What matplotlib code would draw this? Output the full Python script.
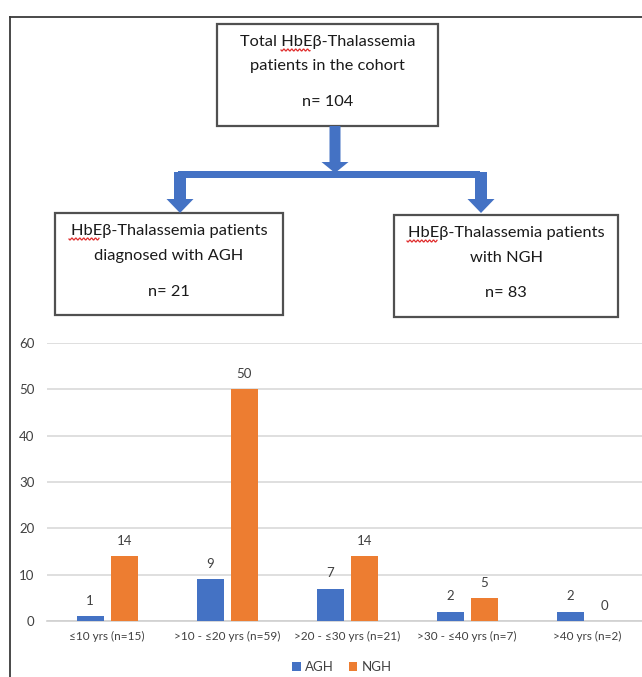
import matplotlib.pyplot as plt
import numpy as np
from matplotlib.patches import Rectangle, FancyArrow

# data
categories = ["≤10 yrs (n=15)", ">10 - ≤20 yrs (n=59)", ">20 - ≤30 yrs (n=21)",
              ">30 - ≤40 yrs (n=7)", ">40 yrs (n=2)"]
agh = [1, 9, 7, 2, 2]
ngh = [14, 50, 14, 5, 0]
yticks = [0, 10, 20, 30, 40, 50, 60]

top_box = ["Total HbEβ-Thalassemia", "patients in the cohort", "", "n= 104"]
left_box = ["HbEβ-Thalassemia patients", "diagnosed with AGH", "", "n= 21"]
right_box = ["HbEβ-Thalassemia patients", "with NGH", "", "n= 83"]

blue = "#4472C4"
orange = "#ED7D31"
grey_txt = "#404040"
W, H = 642, 677

plt.rcParams['font.family'] = ['Lato', 'DejaVu Sans']

fig = plt.figure(figsize=(W / 100, H / 100), dpi=100)

# bar chart, placed in pixel terms
x0, x1 = 47, 647
y_zero, y_top = 621, 343
ax = fig.add_axes([x0 / W, (H - y_zero) / H, (x1 - x0) / W, (y_zero - y_top) / H])
x = np.arange(len(categories))
bw = 0.225
b1 = ax.bar(x - 0.14, agh, bw, color=blue, label="AGH", zorder=3)
b2 = ax.bar(x + 0.145, ngh, bw, color=orange, label="NGH", zorder=3)
for bars, vals in ((b1, agh), (b2, ngh)):
    for b, v in zip(bars, vals):
        ax.text(b.get_x() + b.get_width() / 2, v + 2.0, str(v), ha="center", va="bottom",
                fontsize=9.5, color=grey_txt)
ax.set_xlim(-0.5, len(categories) - 0.5)
ax.set_ylim(0, 60)
ax.set_yticks(yticks)
ax.set_xticks(x)
ax.set_xticklabels(categories, fontsize=8.5, color=grey_txt)
ax.tick_params(axis="y", labelsize=9.5, labelcolor=grey_txt, length=0, pad=9)
ax.tick_params(axis="x", length=0, pad=7)
ax.grid(axis="y", color="#D9D9D9", lw=1.2, zorder=0)
for s in ["top", "right", "left"]:
    ax.spines[s].set_visible(False)
ax.spines["bottom"].set_color("#D0D0D0")
ax.spines["bottom"].set_linewidth(1.2)
ax.legend(loc="center", bbox_to_anchor=(342 / W, (H - 667) / H), bbox_transform=fig.transFigure,
          ncol=2, frameon=False, fontsize=9.5, handlelength=0.65, handleheight=0.65,
          handletextpad=0.35, columnspacing=1.1, labelcolor=grey_txt)

# flowchart overlay
ov = fig.add_axes([0, 0, 1, 1])
ov.set_xlim(0, W)
ov.set_ylim(H, 0)
ov.axis("off")
ov.patch.set_visible(False)

ov.plot([10, W], [17, 17], color="#3a3a3a", lw=1.3)
ov.plot([10, 10], [17, H], color="#3a3a3a", lw=1.3)


def box(xa, ya, xb, yb, lines, ys):
    ov.add_patch(Rectangle((xa, ya), xb - xa, yb - ya, fill=False, ec="#505050", lw=1.6))
    cx = (xa + xb) / 2
    for t, yy in zip(lines, ys):
        if t:
            ov.text(cx, yy, t, ha="center", va="center", fontsize=11.8, color="#1a1a1a")


def squiggle(xa, xb, yy):
    xs = np.linspace(xa, xb, 60)
    ov.plot(xs, yy + 1.0 * np.sin((xs - xa) * 1.6), color="#e03030", lw=0.9)


box(217, 24, 438, 126, top_box, [42, 66, 0, 102])
box(55, 213, 283, 315, left_box, [231, 256, 0, 292])
box(394, 215, 618, 317, right_box, [233, 258, 0, 293])
squiggle(281, 310, 50)
squiggle(69, 99, 239)
squiggle(407, 437, 241)

# arrows
ov.add_patch(FancyArrow(335, 126, 0, 47, width=11, head_width=27, head_length=11,
                        length_includes_head=True, color=blue, lw=0))
ov.add_patch(Rectangle((178, 171), 302, 6.5, color=blue, lw=0))
for cx in (180, 481):
    ov.add_patch(FancyArrow(cx, 172, 0, 41, width=12, head_width=27, head_length=14,
                            length_includes_head=True, color=blue, lw=0))

fig.savefig("out.png", dpi=100)
